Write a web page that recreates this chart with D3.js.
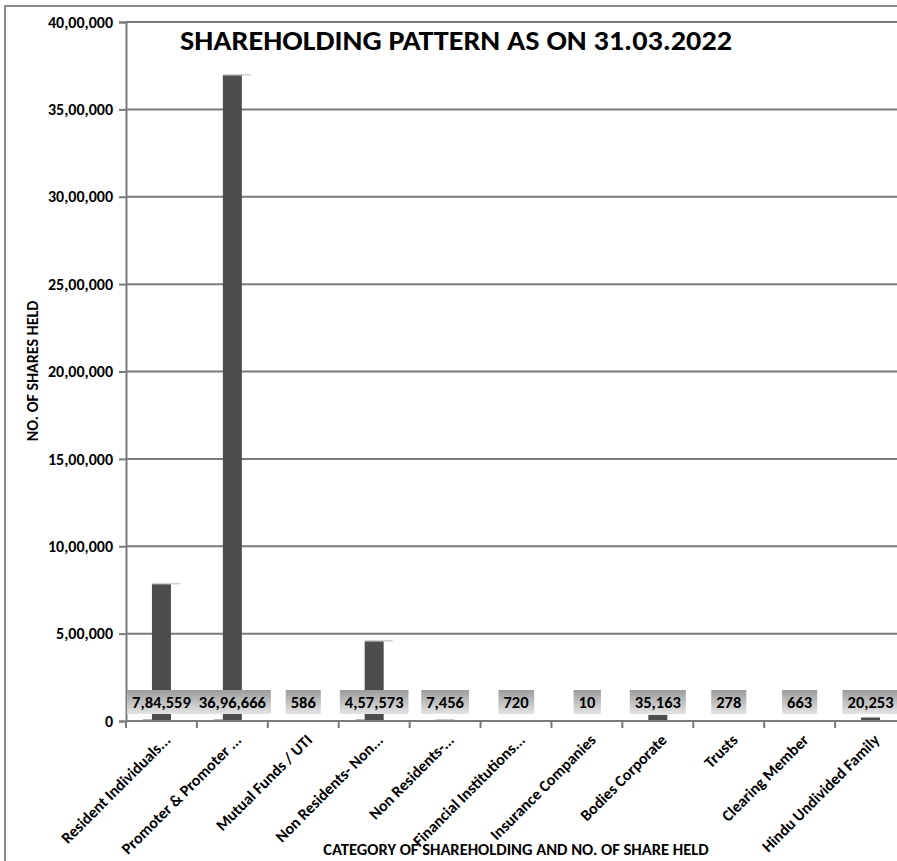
<!DOCTYPE html>
<html>
<head>
<meta charset="utf-8">
<script src="https://cdn.jsdelivr.net/npm/d3@7"></script>
<style>
  body { margin: 0; background: #fff; }
  svg { display: block; font-family: Carlito, Calibri, Lato, "Open Sans", sans-serif; }
</style>
</head>
<body>
<div id="chart"></div>
<script>
// categories and values
var categories = ["Resident Individuals...", "Promoter & Promoter ...", "Mutual Funds / UTI",
  "Non Residents- Non...", "Non Residents-...", "Financial Institutions...", "Insurance Companies",
  "Bodies Corporate", "Trusts", "Clearing Member", "Hindu Undivided Family"];
var shares = [784559, 3696666, 586, 457573, 7456, 720, 10, 35163, 278, 663, 20253];
var yTicks = [0, 500000, 1000000, 1500000, 2000000, 2500000, 3000000, 3500000, 4000000];

var W = 897, H = 861;
var margin = {top: 22, left: 126, bottom: 140, right: -9};

// indian style grouping: 36,96,666
function inr(n){
    var s = String(Math.round(n));
    if (s.length <= 3) return s;
    var last3 = s.slice(-3), rest = s.slice(0, -3);
    return rest.replace(/\B(?=(\d{2})+(?!\d))/g, ",") + "," + last3;
}

var svg = d3.select("#chart").append("svg")
    .attr("width", W)
    .attr("height", H);

var defs = svg.append("defs");
var grad = defs.append("linearGradient")
    .attr("id", "boxGrad")
    .attr("x1", 0).attr("y1", 0).attr("x2", 0).attr("y2", 1);
grad.append("stop").attr("offset", "0%").attr("stop-color", "#9c9c9c");
grad.append("stop").attr("offset", "100%").attr("stop-color", "#e4e4e4");

// outer chart frame
svg.append("rect")
    .attr("x", 5).attr("y", 6)
    .attr("width", W + 20).attr("height", H + 20)
    .attr("fill", "none")
    .attr("stroke", "#8a8a8a")
    .attr("stroke-width", 2);

var x = d3.scaleBand()
    .domain(categories)
    .range([margin.left, W - margin.right]);

var y = d3.scaleLinear()
    .domain([0, 4000000])
    .range([H - margin.bottom, margin.top]);

// gridlines
svg.append("g").selectAll("line")
    .data(yTicks.slice(1))
    .enter().append("line")
    .attr("x1", margin.left).attr("x2", W)
    .attr("y1", function(d){ return y(d); })
    .attr("y2", function(d){ return y(d); })
    .attr("stroke", "#7a7a7a")
    .attr("stroke-width", 2);

var barW = 19;
var bars = svg.append("g").selectAll("g")
    .data(categories.map(function(c, i){ return {cat: c, value: shares[i]}; }))
    .enter().append("g");

// little floor shadow to the left of the taller bars
bars.filter(function(d){ return d.value > 100000; })
    .append("rect")
    .attr("x", function(d){ return x(d.cat) + x.bandwidth()/2 - barW/2 - 9; })
    .attr("y", y(0) - 1.5)
    .attr("width", 9)
    .attr("height", 1.5)
    .attr("fill", "#6a6a6a");

bars.append("rect")
    .attr("x", function(d){ return x(d.cat) + x.bandwidth()/2 - barW/2; })
    .attr("y", function(d){ return y(d.value); })
    .attr("width", barW)
    .attr("height", function(d){ return y(0) - y(d.value); })
    .attr("fill", "#4d4d4d");

// light top cap (3d look)
bars.filter(function(d){ return d.value > 100000; })
    .append("rect")
    .attr("x", function(d){ return x(d.cat) + x.bandwidth()/2 - barW/2; })
    .attr("y", function(d){ return y(d.value) - 1; })
    .attr("width", barW + 9)
    .attr("height", 1.5)
    .attr("fill", "#cfcfcf");

// y axis
var yAxis = d3.axisLeft(y)
    .tickValues(yTicks)
    .tickSize(7)
    .tickPadding(6)
    .tickFormat(inr);

var gy = svg.append("g")
    .attr("transform", "translate(" + margin.left + ",0)")
    .call(yAxis);
gy.select(".domain").attr("stroke", "#7a7a7a").attr("stroke-width", 2);
gy.selectAll(".tick line").attr("stroke", "#7a7a7a").attr("stroke-width", 2);
gy.selectAll(".tick text")
    .attr("fill", "#000")
    .style("font-size", "16px")
    .style("font-weight", "bold")
    .style("font-family", "Carlito, Calibri, Lato, sans-serif");

// x axis line and ticks at band edges
svg.append("line")
    .attr("x1", margin.left).attr("x2", W)
    .attr("y1", y(0)).attr("y2", y(0))
    .attr("stroke", "#7a7a7a")
    .attr("stroke-width", 2);
svg.append("g").selectAll("line")
    .data(categories)
    .enter().append("line")
    .attr("x1", function(d){ return x(d); })
    .attr("x2", function(d){ return x(d); })
    .attr("y1", y(0)).attr("y2", y(0) + 7)
    .attr("stroke", "#7a7a7a")
    .attr("stroke-width", 2);

// data label boxes
var labels = svg.append("g").selectAll("g")
    .data(categories.map(function(c, i){ return {cat: c, value: shares[i]}; }))
    .enter().append("g")
    .attr("transform", function(d){
        return "translate(" + (x(d.cat) + x.bandwidth()/2) + "," + (y(0) - 19) + ")";
    });

labels.append("text")
    .attr("class", "lbl")
    .attr("text-anchor", "middle")
    .attr("dy", "0.36em")
    .style("font-size", "16.5px")
    .style("font-weight", "bold")
    .text(function(d){ return inr(d.value); });

labels.each(function(){
    var g = d3.select(this);
    var bb = g.select("text").node().getBBox();
    g.insert("rect", "text")
        .attr("x", bb.x - 5)
        .attr("y", -12)
        .attr("width", bb.width + 10)
        .attr("height", 24)
        .attr("fill", "url(#boxGrad)");
});

// rotated category labels
svg.append("g").selectAll("text")
    .data(categories)
    .enter().append("text")
    .attr("text-anchor", "end")
    .attr("transform", function(d){
        return "translate(" + (x(d) + x.bandwidth()/2 + 6) + "," + (y(0) + 16) + ") rotate(-45)";
    })
    .attr("dy", "0.35em")
    .style("font-size", "16px")
    .style("font-weight", "bold")
    .text(function(d){ return d; });

// titles
svg.append("text")
    .attr("x", 456).attr("y", 50)
    .attr("text-anchor", "middle")
    .attr("textLength", 552)
    .attr("lengthAdjust", "spacingAndGlyphs")
    .style("font-size", "28px")
    .style("font-weight", "900")
    .text("SHAREHOLDING PATTERN AS ON 31.03.2022");

svg.append("text")
    .attr("transform", "translate(38,371) rotate(-90)")
    .attr("text-anchor", "middle")
    .style("font-size", "16px")
    .style("font-weight", "bold")
    .text("NO. OF SHARES HELD");

svg.append("text")
    .attr("x", 516).attr("y", 855)
    .attr("text-anchor", "middle")
    .style("font-size", "16.5px")
    .style("font-weight", "bold")
    .text("CATEGORY OF SHAREHOLDING AND NO. OF SHARE HELD");
</script>
</body>
</html>
